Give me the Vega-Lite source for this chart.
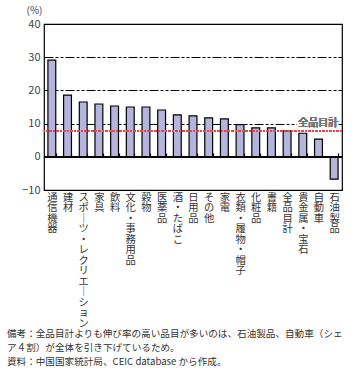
{
  "$schema": "https://vega.github.io/schema/vega-lite/v6.json",
  "width": 298,
  "height": 166,
  "autosize": {"type": "none"},
  "padding": {"left": 44, "top": 24, "right": 16, "bottom": 188},
  "background": "white",
  "config": {
    "font": "Noto Sans CJK JP",
    "view": {"stroke": "black", "strokeWidth": 1.2}
  },
  "title": {
    "text": ["備考：全品目計よりも伸び率の高い品目が多いのは、石油製品、自動車（シェ", "　　　ア４割）が全体を引き下げているため。", "資料：中国国家統計局、CEIC database から作成。"],
    "orient": "bottom",
    "anchor": "start",
    "frame": "group",
    "dx": -37,
    "offset": 1,
    "fontSize": 9.6,
    "fontWeight": "normal",
    "lineHeight": 14,
    "color": "#333"
  },
  "data": {
    "values": [
      {"cat": "通信機器", "v": 29.1},
      {"cat": "建材", "v": 18.6},
      {"cat": "スポーツ・レクリエーション", "v": 16.5},
      {"cat": "家具", "v": 15.9},
      {"cat": "飲料", "v": 15.3},
      {"cat": "文化・事務用品", "v": 15.0},
      {"cat": "穀物", "v": 15.0},
      {"cat": "医薬品", "v": 14.1},
      {"cat": "酒・たばこ", "v": 12.6},
      {"cat": "日用品", "v": 12.3},
      {"cat": "その他", "v": 11.7},
      {"cat": "家電", "v": 11.4},
      {"cat": "衣類・履物・帽子", "v": 9.7},
      {"cat": "化粧品", "v": 8.7},
      {"cat": "書籍", "v": 8.7},
      {"cat": "全品目計", "v": 7.8},
      {"cat": "貴金属・宝石", "v": 7.1},
      {"cat": "自動車", "v": 5.3},
      {"cat": "石油製品", "v": -6.7}
    ]
  },
  "encoding": {
    "y": {
      "type": "quantitative",
      "scale": {"domain": [-10, 40], "nice": false, "zero": false},
      "axis": {
        "title": "(%)", "titleAngle": 0, "titleAlign": "center", "titleBaseline": "middle",
        "titleX": -10, "titleY": -14, "titleFontSize": 10, "titleFontWeight": "normal", "titleColor": "#444",
        "tickCount": 5, "domain": false, "ticks": false,
        "labelFontSize": 11, "labelColor": "#444", "labelPadding": 4, "labelOverlap": false,
        "grid": true, "gridColor": "black", "gridWidth": 1, "gridDash": [9, 2, 3, 2, 3, 2]
      }
    }
  },
  "layer": [
    {
      "mark": {"type": "bar", "fill": "#b4b4dc", "stroke": "black", "strokeWidth": 1.2},
      "encoding": {
        "x": {
          "field": "cat", "type": "nominal", "sort": null,
          "scale": {"paddingInner": 0.5, "paddingOuter": 0.25},
          "axis": {
            "title": null, "orient": "bottom", "offset": -37, "domain": false,
            "ticks": true, "tickBand": "extent", "tickSize": 4, "tickColor": "black", "tickWidth": 1.2,
            "labelAngle": 0, "labelAlign": "center", "labelBaseline": "top",
            "labelFontSize": 10.3, "labelLineHeight": 10.5, "labelColor": "#333",
            "labelPadding": 35, "labelLimit": 0, "labelOverlap": false, "labelBound": false,
            "labelExpr": "split(replace(datum.label, regexp('ー', 'g'), '｜'), '')"
          }
        },
        "y": {"field": "v"}
      }
    },
    {
      "mark": {"type": "rule", "color": "black", "strokeWidth": 1.3},
      "encoding": {"y": {"datum": 0}}
    },
    {
      "mark": {"type": "rule", "color": "#e8464b", "strokeWidth": 1.5, "strokeDash": [2, 1.5]},
      "encoding": {"y": {"datum": 7.8}}
    },
    {
      "mark": {"type": "text", "align": "right", "baseline": "middle", "dx": 4, "fontSize": 10, "stroke": "white", "strokeWidth": 3, "fill": "white"},
      "encoding": {"x": {"datum": "石油製品"}, "y": {"datum": 10.2}, "text": {"value": "全品目計"}}
    },
    {
      "mark": {"type": "text", "align": "right", "baseline": "middle", "dx": 4, "fontSize": 10, "fill": "#777"},
      "encoding": {"x": {"datum": "石油製品"}, "y": {"datum": 10.2}, "text": {"value": "全品目計"}}
    }
  ]
}
